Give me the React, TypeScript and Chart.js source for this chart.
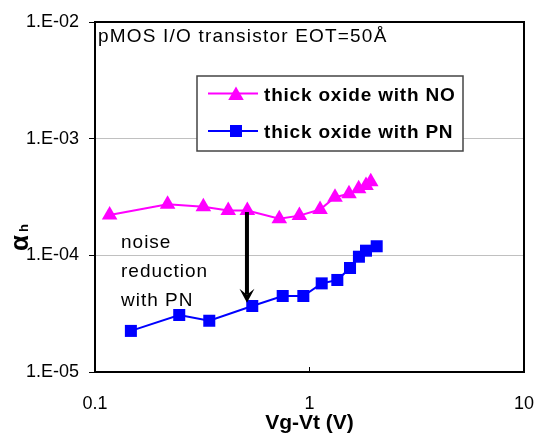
import React, { useEffect, useRef } from 'react';
import { Chart, registerables } from 'chart.js';

Chart.register(...registerables);

const FONT = '"Liberation Sans", Arial, sans-serif';

const seriesNames = ['thick oxide with NO', 'thick oxide with PN'];
const noX = [0.117, 0.218, 0.32, 0.418, 0.513, 0.723, 0.897, 1.12, 1.315, 1.528, 1.695, 1.834, 1.93];
const noY = [2.22e-4, 2.74e-4, 2.61e-4, 2.42e-4, 2.42e-4, 2.06e-4, 2.19e-4, 2.47e-4, 3.15e-4, 3.37e-4, 3.72e-4, 3.97e-4, 4.27e-4];
const pnX = [0.147, 0.247, 0.341, 0.541, 0.75, 0.936, 1.14, 1.348, 1.545, 1.7, 1.834, 2.057];
const pnY = [2.25e-5, 3.08e-5, 2.75e-5, 3.68e-5, 4.48e-5, 4.48e-5, 5.75e-5, 6.15e-5, 7.79e-5, 9.73e-5, 1.096e-4, 1.196e-4];

const xTickValues = [0.1, 1, 10];
const xTickLabels = ['0.1', '1', '10'];
const yTickValues = [1e-5, 1e-4, 1e-3, 1e-2];
const yTickLabels = ['1.E-05', '1.E-04', '1.E-03', '1.E-02'];

const titleText = 'pMOS I/O transistor EOT=50Å';
const xTitle = 'Vg-Vt (V)';
const yTitleMain = 'α';
const yTitleSub = 'h';
const noteLines = ['noise', 'reduction', 'with PN'];
const arrowX = 0.511;
const arrowFromY = 2.35e-4;
const arrowToY = 3.93e-5;

const colors = ['#FF00FF', '#0000FF'];

function drawTri(ctx: CanvasRenderingContext2D, x: number, y: number, r: number) {
  ctx.beginPath();
  for (let k = 0; k < 3; k++) {
    const a = (k * 2 * Math.PI) / 3;
    const px = x + Math.sin(a) * r;
    const py = y - Math.cos(a) * r;
    if (k === 0) ctx.moveTo(px, py); else ctx.lineTo(px, py);
  }
  ctx.closePath();
  ctx.fill();
}

const overlay = {
  id: 'overlay',
  afterDraw(chart: any) {
    const { ctx, chartArea: a, scales } = chart;
    const xs = scales.x;
    const ys = scales.y;
    ctx.save();

    // frame
    ctx.strokeStyle = '#000';
    ctx.lineWidth = 2;
    ctx.strokeRect(a.left, a.top, a.right - a.left, a.bottom - a.top);

    // small inward tick at x = 1
    const x1 = xs.getPixelForValue(xTickValues[1]);
    ctx.lineWidth = 1;
    ctx.beginPath();
    ctx.moveTo(x1, a.bottom);
    ctx.lineTo(x1, a.bottom - 5);
    ctx.stroke();

    // title inside plot
    ctx.fillStyle = '#000';
    ctx.textAlign = 'left';
    ctx.textBaseline = 'alphabetic';
    ctx.font = `19px ${FONT}`;
    (ctx as any).letterSpacing = '1.2px';
    ctx.fillText(titleText, a.left + 3, a.top + 20);

    // annotation text
    (ctx as any).letterSpacing = '1px';
    const nb = [248, 277, 306];
    noteLines.forEach((t, i) => ctx.fillText(t, 121, nb[i]));
    (ctx as any).letterSpacing = '0px';

    // arrow
    const ax = xs.getPixelForValue(arrowX);
    const ay1 = ys.getPixelForValue(arrowFromY);
    const ay2 = ys.getPixelForValue(arrowToY);
    ctx.lineWidth = 4;
    ctx.beginPath();
    ctx.moveTo(ax, ay1);
    ctx.lineTo(ax, ay2 - 8);
    ctx.stroke();
    ctx.beginPath();
    ctx.moveTo(ax, ay2);
    ctx.lineTo(ax - 7.5, ay2 - 14);
    ctx.lineTo(ax, ay2 - 8);
    ctx.lineTo(ax + 7.5, ay2 - 14);
    ctx.closePath();
    ctx.fill();

    // legend
    const lx = a.left + 102;
    const ly = a.top + 54;
    const lw = 266;
    const lh = 75;
    ctx.fillStyle = '#fff';
    ctx.fillRect(lx, ly, lw, lh);
    ctx.strokeStyle = '#444';
    ctx.lineWidth = 1.5;
    ctx.strokeRect(lx, ly, lw, lh);
    const rows = [ly + 17.5, ly + 55];
    seriesNames.forEach((name, i) => {
      const cy = rows[i];
      ctx.strokeStyle = colors[i];
      ctx.fillStyle = colors[i];
      ctx.lineWidth = 2;
      ctx.beginPath();
      ctx.moveTo(lx + 11, cy);
      ctx.lineTo(lx + 61, cy);
      ctx.stroke();
      if (i === 0) drawTri(ctx, lx + 39, cy + 2, 9);
      else ctx.fillRect(lx + 39 - 6, cy - 6, 12, 12);
      ctx.fillStyle = '#000';
      ctx.font = `bold 19px ${FONT}`;
      (ctx as any).letterSpacing = '0.8px';
      ctx.textBaseline = 'alphabetic';
      ctx.fillText(name, lx + 67, cy + 7);
      (ctx as any).letterSpacing = '0px';
    });

    // y title alpha_h
    ctx.fillStyle = '#000';
    ctx.translate(21, 243);
    ctx.rotate(-Math.PI / 2);
    ctx.textAlign = 'center';
    ctx.textBaseline = 'middle';
    ctx.font = `bold 26px ${FONT}`;
    ctx.fillText(yTitleMain, 0, 0);
    ctx.font = `bold 13px ${FONT}`;
    ctx.fillText(yTitleSub, 15, 3);

    ctx.restore();
  },
};

export default function App() {
  const ref = useRef<HTMLCanvasElement | null>(null);
  useEffect(() => {
    const canvas = ref.current;
    if (!canvas) return;
    const chart = new Chart(canvas, {
      type: 'scatter',
      data: {
        datasets: [
          {
            label: seriesNames[0],
            data: noX.map((x, i) => ({ x, y: noY[i] })),
            showLine: true,
            borderColor: colors[0],
            backgroundColor: colors[0],
            borderWidth: 2,
            pointStyle: 'triangle',
            pointRadius: 9,
            pointHoverRadius: 9,
            pointBorderWidth: 0,
          },
          {
            label: seriesNames[1],
            data: pnX.map((x, i) => ({ x, y: pnY[i] })),
            showLine: true,
            borderColor: colors[1],
            backgroundColor: colors[1],
            borderWidth: 2,
            pointStyle: 'rect',
            pointRadius: 8.5,
            pointHoverRadius: 8.5,
            pointBorderWidth: 0,
          },
        ],
      },
      options: {
        responsive: false,
        animation: false,
        devicePixelRatio: 1,
        layout: { padding: { top: 22, right: 12, left: 0, bottom: 0 } },
        plugins: { legend: { display: false }, tooltip: { enabled: false } },
        scales: {
          x: {
            type: 'logarithmic',
            position: 'bottom',
            min: 0.1,
            max: 10,
            afterBuildTicks: (s: any) => {
              s.ticks = xTickValues.map((v) => ({ value: v }));
            },
            afterFit: (s: any) => {
              s.height = 61;
              s.paddingLeft = 0;
              s.paddingRight = 0;
            },
            ticks: {
              callback: (_v: any, i: number) => xTickLabels[i],
              font: { family: FONT, size: 18 },
              color: '#000',
              padding: 21,
              maxRotation: 0,
              autoSkip: false,
            },
            grid: { display: false, drawTicks: false },
            border: { display: false },
            title: {
              display: true,
              text: xTitle,
              font: { family: FONT, size: 21, weight: 'bold' },
              color: '#000',
              padding: { top: 0, bottom: -3 },
            },
          },
          y: {
            type: 'logarithmic',
            min: 1e-5,
            max: 1e-2,
            afterBuildTicks: (s: any) => {
              s.ticks = yTickValues.map((v) => ({ value: v }));
            },
            afterFit: (s: any) => {
              s.width = 95;
              s.paddingTop = 0;
              s.paddingBottom = 0;
            },
            ticks: {
              callback: (_v: any, i: number) => yTickLabels[i],
              font: { family: FONT, size: 18 },
              color: '#000',
              padding: 10,
              autoSkip: false,
            },
            grid: {
              color: (c: any) =>
                c.tick && (c.tick.value === yTickValues[1] || c.tick.value === yTickValues[2])
                  ? '#c0c0c0'
                  : 'rgba(0,0,0,0)',
              tickColor: '#000',
              tickLength: 6,
              lineWidth: 1,
            },
            border: { display: false },
          },
        },
      },
      plugins: [overlay],
    } as any);
    return () => chart.destroy();
  }, []);
  return (
    <div style={{ position: 'absolute', left: 0, top: 0, width: 536, height: 433 }}>
      <canvas ref={ref} width={536} height={433} style={{ width: 536, height: 433, display: 'block' }} />
    </div>
  );
}
